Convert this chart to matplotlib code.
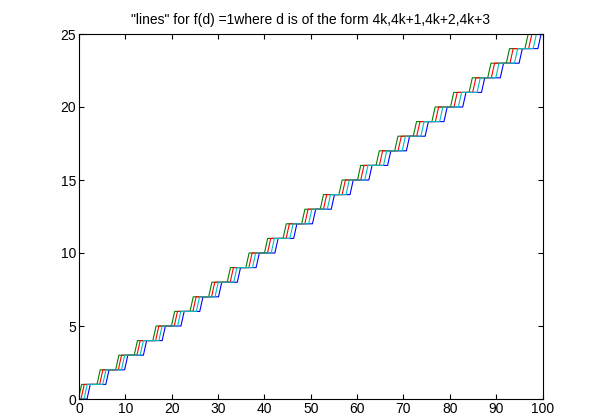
import numpy as np
import matplotlib
matplotlib.use('Agg')
import matplotlib.pyplot as plt

# x where each line starts to climb to the next level (levels 1..25)
green_rise = [-0.13, 3.88, 7.90, 11.91, 15.93, 19.94, 23.95, 27.97, 31.98, 36.00,
              40.01, 44.02, 48.04, 52.05, 56.07, 60.08, 64.09, 68.11, 72.12, 76.14,
              80.15, 84.16, 88.18, 92.19, 96.21]
red_rise = [0.43, 4.45, 8.48, 12.50, 16.53, 20.55, 24.57, 28.60, 32.62, 36.65,
            40.67, 44.69, 48.72, 52.74, 56.77, 60.79, 64.81, 68.84, 72.86, 76.89,
            80.91, 84.93, 88.96, 92.98, 97.01]
cyan_rise = [1.08, 5.12, 9.16, 13.19, 17.23, 21.27, 25.31, 29.35, 33.38, 37.42,
             41.46, 45.50, 49.54, 53.57, 57.61, 61.65, 65.69, 69.73, 73.76, 77.80,
             81.84, 85.88, 89.92, 93.95, 97.99]
blue_rise = [1.73, 5.78, 9.84, 13.89, 17.94, 21.99, 26.05, 30.10, 34.15, 38.21,
             42.26, 46.31, 50.37, 54.42, 58.47, 62.53, 66.58, 70.63, 74.68, 78.74,
             82.79, 86.84, 90.90, 94.95, 99.00]
rise_width = 0.7

x_ticks = [0, 10, 20, 30, 40, 50, 60, 70, 80, 90, 100]
y_ticks = [0, 5, 10, 15, 20, 25]

title = '"lines" for f(d) =1where d is of the form 4k,4k+1,4k+2,4k+3'


def staircase(rises, width, x_end=101):
    xs = [-1.0]
    ys = [0]
    for level, r in enumerate(rises, start=1):
        xs += [r, r + width]
        ys += [level - 1, level]
    xs.append(x_end)
    ys.append(len(rises))
    return xs, ys


plt.rcParams['font.family'] = ['Liberation Sans', 'DejaVu Sans']

fig = plt.figure(figsize=(5.98, 4.19), dpi=100)
ax = fig.add_axes([79 / 598, 1 - 399 / 419, 463.5 / 598, 365 / 419])

# same order as matlab's default colour order
series = [(blue_rise, (0, 0, 1)),
          (green_rise, (0, 0.5, 0)),
          (red_rise, (1, 0, 0)),
          (cyan_rise, (0, 0.75, 0.75))]
for rises, col in series:
    xs, ys = staircase(rises, rise_width)
    ax.plot(xs, ys, color=col, linewidth=0.8)

ax.set_xlim(0, 100)
ax.set_ylim(0, 25)
ax.set_xticks(x_ticks)
ax.set_yticks(y_ticks)
ax.tick_params(direction='in', length=3.5, width=0.8, top=True, right=True,
               labelsize=10, pad=2, colors='black')
for sp in ax.spines.values():
    sp.set_linewidth(0.8)
ax.set_title(title, fontsize=10, pad=7)

fig.savefig('out.png', dpi=100)
